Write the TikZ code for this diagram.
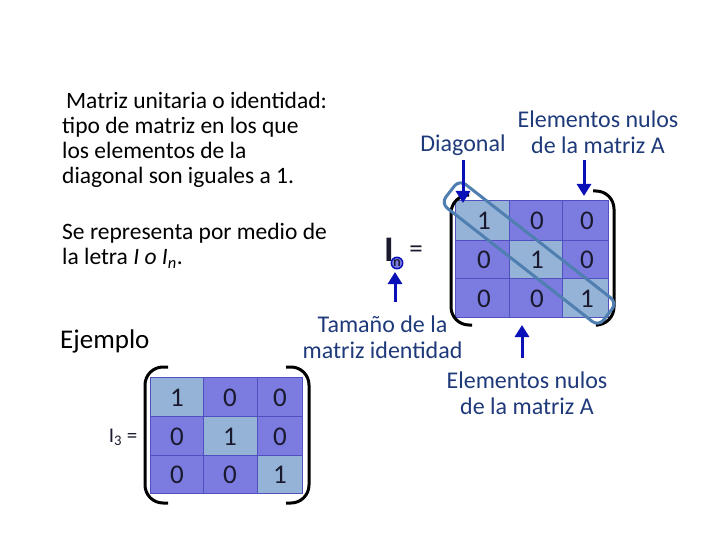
\documentclass[tikz,border=0pt]{standalone}
\usepackage{fontspec}
\usetikzlibrary{arrows.meta}
\setmainfont{Carlito}
\begin{document}
\begin{tikzpicture}[x=1pt,y=-1pt,
  lt/.style={fill=light,draw=dkline,line width=0.6pt},
  dk/.style={fill=dark,draw=dkline,line width=0.6pt},
  num/.style={font=\fontsize{27}{27}\selectfont,text=numc},
  lbl/.style={font=\fontsize{24}{26}\selectfont,text=lab,align=center},
  txt/.style={font=\fontsize{23.5}{25}\selectfont,text=black,align=left,anchor=north west,inner sep=0},
  arr/.style={-{Triangle[width=14pt,length=12pt]},line width=3pt,draw=arrc},
  par/.style={line width=3pt,draw=black,rounded corners=18pt}]
\definecolor{light}{HTML}{95B3D7}
\definecolor{dark}{HTML}{7B7BE0}
\definecolor{dkline}{HTML}{5050C0}
\definecolor{numc}{HTML}{1A1A2E}
\definecolor{lab}{HTML}{1F3A7A}
\definecolor{arrc}{HTML}{0A10B8}
\definecolor{diagc}{HTML}{4F7FB0}
\useasboundingbox (0,0) rectangle (720,540);
% text blocks
\node[txt] (t1) at (62,92) {\,Matriz unitaria o identidad:\\tipo de matriz en los que\\los elementos de la\\diagonal son iguales a 1.};
\node[txt] (t2) at (62,223) {Se representa por medio de\\la letra \emph{I o I\textsubscript{n}}.};
\node[txt,font=\fontsize{27}{27}\selectfont] (t3) at (60,330) {Ejemplo};
% big matrix
\foreach \r/\ya/\yb in {1/200/240,2/240/278,3/278/317}{
 \foreach \c/\xa/\xb in {1/455/509,2/509/562,3/562/608}{
  \ifnum\r=\c \path[lt] (\xa,\ya) rectangle (\xb,\yb);
  \else \path[dk] (\xa,\ya) rectangle (\xb,\yb); \fi
 }}
\node[num] (b11) at (484,221) {1}; \node[num] (b12) at (537,221) {0}; \node[num] (b13) at (587,221) {0};
\node[num] (b21) at (484,260) {0}; \node[num] (b22) at (537,260) {1}; \node[num] (b23) at (587,260) {0};
\node[num] (b31) at (484,299) {0}; \node[num] (b32) at (537,299) {0}; \node[num] (b33) at (587,299) {1};
\draw[par] (468,195) -- (451,195) -- (451,325) -- (472,325);
\draw[par] (593,191) -- (614,191) -- (614,325) -- (598,325);
\node[draw=diagc,line width=3pt,rounded corners=8pt,minimum width=200pt,minimum height=30pt,rotate=-38] (diag) at (529,253) {};
% In
\node[font=\fontsize{36}{36}\selectfont\bfseries,text=numc,inner sep=0] (I) at (389,250) {I};
\node[circle,fill=dark,draw=arrc,line width=1.5pt,inner sep=0.5pt,font=\fontsize{14}{14}\selectfont] (n) at (397,263) {n};
\node[font=\fontsize{27}{27}\selectfont,text=numc] (eq) at (416,252) {=};
% labels
\node[lbl] (ldiag) at (463,145) {Diagonal};
\node[lbl] (lnul1) at (598,132) {Elementos nulos\\de la matriz A};
\node[lbl,anchor=east] (ltam) at (466,337) {Tamaño de la\\matriz identidad};
\node[lbl] (lnul2) at (527,393) {Elementos nulos\\de la matriz A};
% arrows
\coordinate (a1s) at (463,160); \coordinate (a1e) at (463,203);
\draw[arr] (a1s) -- (a1e);
\coordinate (a2s) at (584,160); \coordinate (a2e) at (584,196);
\draw[arr] (a2s) -- (a2e);
\coordinate (a3s) at (522,358); \coordinate (a3e) at (522,325);
\draw[arr] (a3s) -- (a3e);
\coordinate (a4s) at (395,302); \coordinate (a4e) at (395,272);
\draw[arr] (a4s) -- (a4e);
% small matrix
\foreach \r/\ya/\yb in {1/377/416,2/416/455,3/455/493}{
 \foreach \c/\xa/\xb in {1/150/203,2/203/257,3/257/302}{
  \ifnum\r=\c \path[lt] (\xa,\ya) rectangle (\xb,\yb);
  \else \path[dk] (\xa,\ya) rectangle (\xb,\yb); \fi
 }}
\node[num] (s11) at (177,398) {1}; \node[num] (s12) at (230,398) {0}; \node[num] (s13) at (280,398) {0};
\node[num] (s21) at (177,437) {0}; \node[num] (s22) at (230,437) {1}; \node[num] (s23) at (280,437) {0};
\node[num] (s31) at (177,475) {0}; \node[num] (s32) at (230,475) {0}; \node[num] (s33) at (280,475) {1};
\draw[par] (168,367) -- (145,367) -- (145,503) -- (168,503);
\draw[par] (286,367) -- (309,367) -- (309,503) -- (286,503);
\node[font=\fontsize{21}{21}\selectfont,text=numc] (I3) at (123,437) {I\textsubscript{3} =};
\end{tikzpicture}
\end{document}
